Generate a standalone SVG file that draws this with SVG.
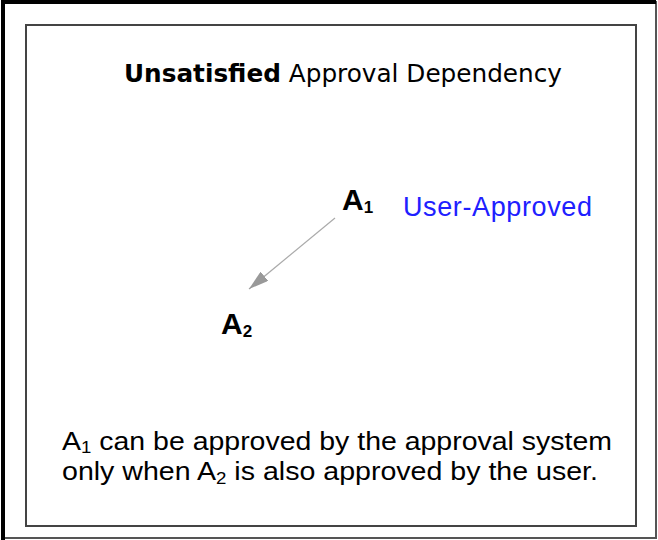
<svg xmlns="http://www.w3.org/2000/svg" width="658" height="540" viewBox="0 0 658 540">
<style>
  text { font-family: "Liberation Sans", Arial, sans-serif; fill: #000; }
  .title { font-family: "DejaVu Sans", Verdana, sans-serif; font-size: 25px; }
  .label { font-size: 30px; font-weight: bold; }
  .sub { font-size: 17px; }
  .note { font-size: 26px; }
  .status { font-size: 27px; fill: #2020ff; }
</style>
<defs>
  <marker id="head" viewBox="0 0 20 12" refX="20" refY="6" markerWidth="20" markerHeight="12" markerUnits="userSpaceOnUse" orient="auto">
    <path d="M0,0 L20,6 L0,12 Z" fill="#999"/>
  </marker>
</defs>
<rect x="0" y="0" width="658" height="540" fill="#fff"/>
<g id="frame">
  <path d="M656,1 V538 H2" fill="none" stroke="#555" stroke-width="2"/>
  <path d="M3,540 V2 H656" fill="none" stroke="#000" stroke-width="4"/>
  <rect x="26" y="25" width="610" height="501" fill="none" stroke="#444" stroke-width="2"/>
</g>
<g id="title">
  <text class="title" x="124" y="82" textLength="438" lengthAdjust="spacingAndGlyphs"><tspan font-weight="bold">Unsatisfied</tspan> Approval Dependency</text>
</g>
<g id="connectors">
  <line x1="335" y1="218" x2="249" y2="289" stroke="#aaa" stroke-width="1.2" marker-end="url(#head)"/>
</g>
<g id="A1">
  <text class="label" x="342" y="210">A<tspan class="sub" dy="3">1</tspan></text>
  <text class="status" x="403" y="216" textLength="189" lengthAdjust="spacing">User-Approved</text>
</g>
<g id="A2">
  <text class="label" x="221" y="334">A<tspan class="sub" dy="3">2</tspan></text>
</g>
<g id="note">
  <text class="note" x="62" y="450" textLength="550" lengthAdjust="spacingAndGlyphs">A<tspan class="sub" dy="3">1</tspan><tspan dy="-3"> can be approved by the approval system</tspan></text>
  <text class="note" x="62" y="480" textLength="536" lengthAdjust="spacingAndGlyphs">only when A<tspan class="sub" dy="4">2</tspan><tspan dy="-4"> is also approved by the user.</tspan></text>
</g>
</svg>
